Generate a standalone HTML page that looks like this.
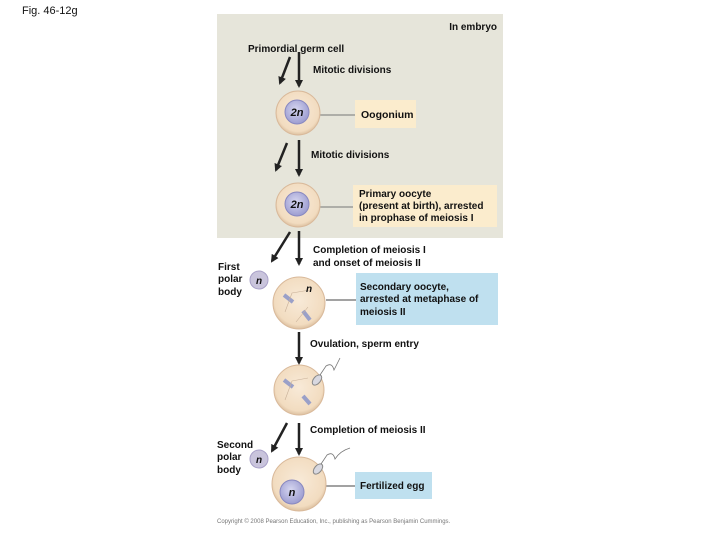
<!DOCTYPE html>
<html><head><style>
body{margin:0;background:#fff;}
svg text{font-family:"Liberation Sans",Arial,sans-serif;font-size:10px;font-weight:bold;fill:#111;}
</style></head><body>
<svg width="720" height="540" viewBox="0 0 720 540" xmlns="http://www.w3.org/2000/svg">
<defs>
<marker id="a" markerWidth="8" markerHeight="8" refX="6" refY="4" orient="auto" markerUnits="userSpaceOnUse">
<path d="M0,0 L8,4 L0,8 Z" fill="#222"/></marker>
<radialGradient id="cg" cx="50%" cy="45%" r="55%"><stop offset="0" stop-color="#f8ead8"/><stop offset="0.85" stop-color="#f2dcc0"/><stop offset="1" stop-color="#dcc0a0"/></radialGradient>
<radialGradient id="ng" cx="45%" cy="40%" r="60%"><stop offset="0" stop-color="#d6d6f0"/><stop offset="1" stop-color="#9c9cd0"/></radialGradient>
</defs>
<text x="22" y="14" style="font-size:11px;font-weight:normal">Fig. 46-12g</text>
<rect x="217" y="14" width="286" height="224" fill="#e6e5da"/>
<text x="497" y="30" text-anchor="end">In embryo</text>
<text x="248" y="52">Primordial germ cell</text>
<text x="313" y="73">Mitotic divisions</text>
<text x="311" y="158">Mitotic divisions</text>
<g stroke="#222" stroke-width="2.5" fill="none" marker-end="url(#a)">
<line x1="299" y1="52" x2="299" y2="86"/>
<line x1="290" y1="57" x2="280" y2="83"/>
<line x1="299" y1="140" x2="299" y2="175"/>
<line x1="287" y1="143" x2="276" y2="170"/>
<line x1="299" y1="231" x2="299" y2="264"/>
<line x1="290" y1="232" x2="272" y2="261"/>
<line x1="299" y1="332" x2="299" y2="363"/>
<line x1="299" y1="423" x2="299" y2="454"/>
<line x1="287" y1="423" x2="272" y2="451"/>
</g>
<line x1="320" y1="115" x2="358" y2="115" stroke="#777"/>
<rect x="355" y="100" width="61" height="28" fill="#fbeccd"/>
<text x="361" y="118" style="font-size:10.5px">Oogonium</text>
<circle cx="298" cy="113" r="22" fill="url(#cg)" stroke="#d9b99a"/>
<circle cx="297" cy="112" r="12" fill="url(#ng)" stroke="#8888c0"/>
<text x="297" y="116" text-anchor="middle" style="font-style:italic;font-size:11px">2n</text>
<line x1="320" y1="207" x2="354" y2="207" stroke="#777"/>
<rect x="353" y="185" width="144" height="42" fill="#fbeccd"/>
<text x="359" y="197">Primary oocyte</text>
<text x="359" y="209">(present at birth), arrested</text>
<text x="359" y="221">in prophase of meiosis I</text>
<circle cx="298" cy="205" r="22" fill="url(#cg)" stroke="#d9b99a"/>
<circle cx="297" cy="204" r="12" fill="url(#ng)" stroke="#8888c0"/>
<text x="297" y="208" text-anchor="middle" style="font-style:italic;font-size:11px">2n</text>
<text x="313" y="253">Completion of meiosis I</text>
<text x="313" y="266">and onset of meiosis II</text>
<text x="218" y="270">First</text><text x="218" y="282">polar</text><text x="218" y="295">body</text>
<circle cx="259" cy="280" r="9" fill="#c9c4dc" stroke="#a8a0c8"/>
<text x="259" y="284" text-anchor="middle" style="font-style:italic">n</text>
<line x1="326" y1="300" x2="357" y2="300" stroke="#444"/>
<rect x="356" y="273" width="142" height="52" fill="#bfe0ef"/>
<text x="360" y="290">Secondary oocyte,</text>
<text x="360" y="302">arrested at metaphase of</text>
<text x="360" y="315">meiosis II</text>
<circle cx="299" cy="303" r="26" fill="url(#cg)" stroke="#d9b99a"/>
<g stroke="#9aa0c8" stroke-width="4"><line x1="284" y1="295" x2="293" y2="302"/><line x1="303" y1="311" x2="310" y2="320"/></g>
<path d="M285 312 L292 293 L310 290 M296 322 L308 307" stroke="#c8b098" fill="none" stroke-width="0.6"/>
<text x="306" y="292" style="font-style:italic">n</text>
<text x="310" y="347">Ovulation, sperm entry</text>
<circle cx="299" cy="390" r="25" fill="url(#cg)" stroke="#d9b99a"/>
<g stroke="#9aa0c8" stroke-width="4"><line x1="284" y1="380" x2="293" y2="387"/><line x1="303" y1="396" x2="310" y2="404"/></g>
<path d="M285 400 L292 381 L308 378" stroke="#c8b098" fill="none" stroke-width="0.6"/>
<ellipse cx="317" cy="380" rx="3.5" ry="6" transform="rotate(40 317 380)" fill="#d8d8e0" stroke="#888"/>
<path d="M320 375 L326 366 Q332 362 334 370 Q338 362 340 358" stroke="#777" fill="none" stroke-width="0.8"/>
<text x="310" y="433">Completion of meiosis II</text>
<text x="217" y="448">Second</text><text x="217" y="460">polar</text><text x="217" y="473">body</text>
<circle cx="259" cy="459" r="9" fill="#c9c4dc" stroke="#a8a0c8"/>
<text x="259" y="463" text-anchor="middle" style="font-style:italic">n</text>
<line x1="326" y1="486" x2="356" y2="486" stroke="#444"/>
<rect x="355" y="472" width="77" height="27" fill="#bfe0ef"/>
<text x="360" y="489">Fertilized egg</text>
<circle cx="299" cy="484" r="27" fill="url(#cg)" stroke="#d9b99a"/>
<circle cx="292" cy="492" r="12" fill="url(#ng)" stroke="#8888c0"/>
<text x="292" y="496" text-anchor="middle" style="font-style:italic;font-size:11px">n</text>
<ellipse cx="318" cy="469" rx="3.5" ry="6" transform="rotate(40 318 469)" fill="#d8d8e0" stroke="#888"/>
<path d="M321 464 L327 455 Q333 451 335 459 Q340 451 350 448" stroke="#777" fill="none" stroke-width="0.8"/>
<text x="217" y="523" style="font-size:6px;fill:#777;font-weight:normal">Copyright © 2008 Pearson Education, Inc., publishing as Pearson Benjamin Cummings.</text>
</svg>
</body></html>
